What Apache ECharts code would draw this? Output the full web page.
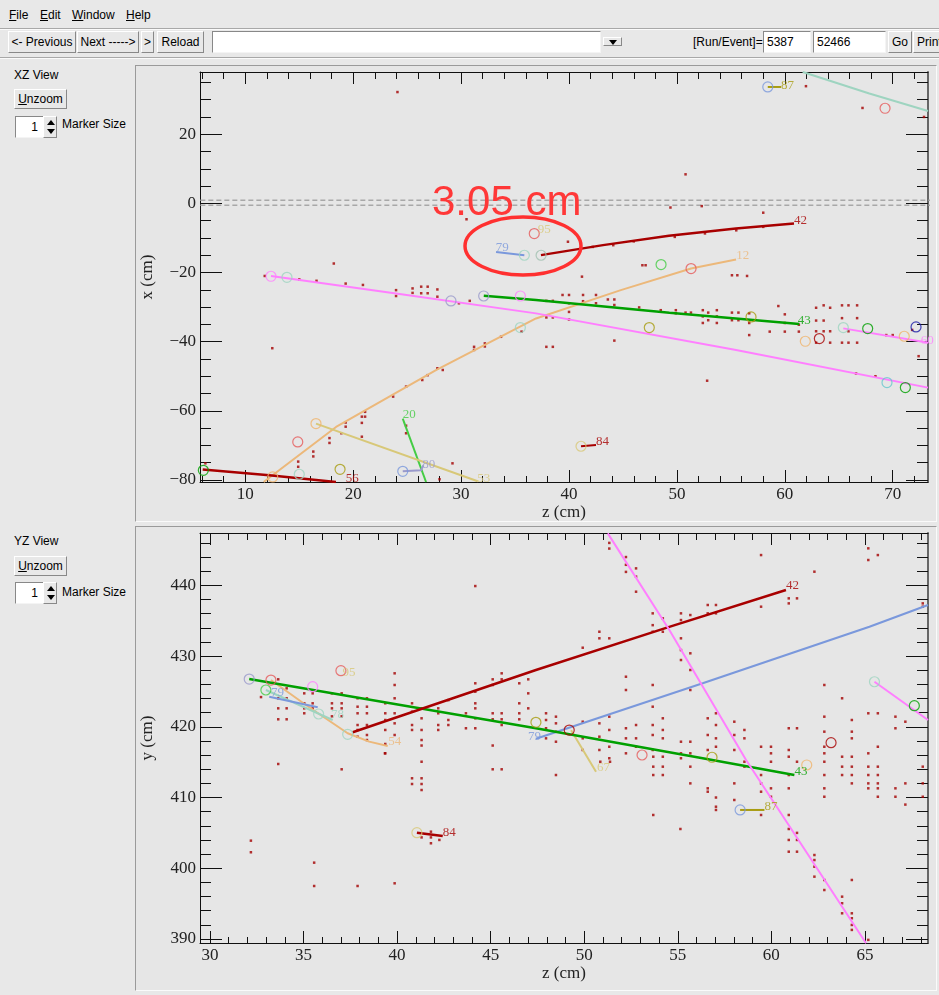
<!DOCTYPE html>
<html><head><meta charset="utf-8">
<script src="https://cdn.jsdelivr.net/npm/echarts@6/dist/echarts.min.js"></script>
<style>
html,body{margin:0;padding:0;}
body{width:939px;height:995px;background:#e8e8e8;position:relative;overflow:hidden;font-family:'Liberation Sans',Arial,sans-serif;font-size:12px;color:#000;}
.a{position:absolute;white-space:nowrap;line-height:14px;}
.btn{position:absolute;box-sizing:border-box;border-top:1px solid #fff;border-left:1px solid #fff;border-right:1px solid #888;border-bottom:1px solid #888;background:#e8e8e8;text-align:center;white-space:nowrap;overflow:hidden;}
.inp{position:absolute;box-sizing:border-box;background:#fff;border-top:1px solid #888;border-left:1px solid #888;border-right:1px solid #f4f4f4;border-bottom:1px solid #f4f4f4;white-space:nowrap;overflow:hidden;}
.u{text-decoration:underline;}
.sep{position:absolute;left:0;width:939px;height:0;border-top:1px solid #a8a8a8;border-bottom:1px solid #fafafa;}
.frame{position:absolute;box-sizing:border-box;border-top:1px solid #9a9a9a;border-left:1px solid #9a9a9a;border-right:1px solid #fafafa;border-bottom:1px solid #fafafa;background:#e6e6e6;}
.up{position:absolute;left:3px;width:0;height:0;border-left:4px solid transparent;border-right:4px solid transparent;border-bottom:5px solid #000;}
.dn{position:absolute;left:3px;width:0;height:0;border-left:4px solid transparent;border-right:4px solid transparent;border-top:5px solid #000;}
#chart{position:absolute;left:0;top:0;width:939px;height:995px;}
</style></head>
<body>
<div class="a" style="left:9px;top:8px"><span class="u">F</span>ile</div>
<div class="a" style="left:40px;top:8px"><span class="u">E</span>dit</div>
<div class="a" style="left:72px;top:8px"><span class="u">W</span>indow</div>
<div class="a" style="left:126px;top:8px"><span class="u">H</span>elp</div>
<div class="sep" style="top:28px"></div>

<div class="btn" style="left:8px;top:31px;width:68px;height:22px;line-height:20px">&lt;- Previous</div>
<div class="btn" style="left:77px;top:31px;width:62px;height:22px;line-height:20px">Next -----&gt;</div>
<div class="btn" style="left:141px;top:31px;width:13px;height:22px;line-height:20px">&gt;</div>
<div class="btn" style="left:157px;top:31px;width:47px;height:22px;line-height:20px">Reload</div>
<div class="inp" style="left:212px;top:31px;width:389px;height:22px"></div>
<div class="btn" style="left:603px;top:37px;width:19px;height:9px"><div class="dn" style="left:5px;top:2px"></div></div>
<div class="a" style="left:693px;top:35px">[Run/Event]=</div>
<div class="inp" style="left:763px;top:31px;width:48px;height:22px;line-height:20px;padding-left:3px">5387</div>
<div class="inp" style="left:813px;top:31px;width:73px;height:22px;line-height:20px;padding-left:3px">52466</div>
<div class="btn" style="left:888px;top:31px;width:24px;height:22px;line-height:20px">Go</div>
<div class="btn" style="left:913px;top:31px;width:32px;height:22px;line-height:20px;text-align:left;padding-left:3px">Print</div>
<div class="sep" style="top:57px"></div>

<div class="a" style="left:14px;top:68px">XZ View</div>
<div class="btn" style="left:14px;top:89px;width:53px;height:20px;line-height:18px"><span class="u">U</span>nzoom</div>
<div class="inp" style="left:15px;top:116px;width:29px;height:22px;line-height:20px;text-align:right;padding-right:5px">1</div>
<div class="btn" style="left:43px;top:116px;width:14px;height:22px"><div class="up" style="top:3px"></div><div class="dn" style="top:12px"></div></div>
<div class="a" style="left:62px;top:117px">Marker Size</div>

<div class="a" style="left:14px;top:534px">YZ View</div>
<div class="btn" style="left:14px;top:556px;width:53px;height:20px;line-height:18px"><span class="u">U</span>nzoom</div>
<div class="inp" style="left:15px;top:582px;width:29px;height:22px;line-height:20px;text-align:right;padding-right:5px">1</div>
<div class="btn" style="left:43px;top:582px;width:14px;height:22px"><div class="up" style="top:3px"></div><div class="dn" style="top:12px"></div></div>
<div class="a" style="left:62px;top:585px">Marker Size</div>

<div class="frame" style="left:135px;top:65px;width:802px;height:457px"></div>
<div class="frame" style="left:135px;top:526px;width:802px;height:465px"></div>

<div id="chart"></div>
<script>
// ---------- axes ----------
const xzZMin = 5.8, xzZMax = 73.27, xzXMin = -80.6, xzXMax = 38.0;
const yzZMin = 29.47, yzZMax = 68.37, yzYMin = 389.43, yzYMax = 447.4;
const xzZMajor = [10, 20, 30, 40, 50, 60, 70];
const xzZMinor = [6, 8, 12, 14, 16, 18, 22, 24, 26, 28, 32, 34, 36, 38, 42, 44, 46, 48, 52, 54, 56, 58, 62, 64, 66, 68, 72];
const xzXMajor = [-80, -60, -40, -20, 0, 20];
const xzXMinor = [-75, -70, -65, -55, -50, -45, -35, -30, -25, -15, -10, -5, 5, 10, 15, 25, 30, 35];
const yzZMajor = [30, 35, 40, 45, 50, 55, 60, 65];
const yzZMinor = [31, 32, 33, 34, 36, 37, 38, 39, 41, 42, 43, 44, 46, 47, 48, 49, 51, 52, 53, 54, 56, 57, 58, 59, 61, 62, 63, 64, 66, 67, 68];
const yzYMajor = [390, 400, 410, 420, 430, 440];
const yzYMinor = [392, 394, 396, 398, 402, 404, 406, 408, 412, 414, 416, 418, 422, 424, 426, 428, 432, 434, 436, 438, 442, 444, 446];

// ---------- XZ view tracks (z, x) ----------
const xzTrack42 = [[37.40, -14.97], [43.15, -12.08], [49.26, -9.39], [55.47, -7.26], [60.85, -5.81]];
const xzTrack43 = [[32.10, -26.73], [36.94, -27.98], [49.30, -31.65], [61.34, -34.91]];
const xzTrackPinkLong = [[12.38, -21.04], [23.97, -26.04], [36.94, -31.82], [55.48, -42.43], [73.27, -53.3]];
const xzTrackPink60 = [[65.42, -36.16], [72.78, -40.03], [73.27, -40.3]];
const xzTrack12 = [[11.7, -80.6], [18.41, -64.68], [27.67, -48.26], [36.94, -33.3], [44.8, -25.1], [51.31, -18.86], [55.48, -16.26]];
const xzTrack56 = [[6.05, -77.0], [12.22, -78.65], [18.40, -80.6]];
const xzTrack20 = [[24.59, -62.25], [26.75, -80.6]];
const xzTrack53 = [[16.55, -63.70], [31.54, -80.39]];
const xzTrack80 = [[24.59, -77.50], [26.28, -77.2], [26.5, -75.8]];
const xzTrack84 = [[41.11, -70.26], [42.5, -69.9]];
const xzTrack87 = [[58.42, 33.67], [59.65, 33.67]];
const xzTrackTeal = [[61.66, 38.0], [67.83, 31.76], [73.27, 26.7]];
const xzTrack79 = [[33.24, -14.06], [35.86, -15.01]];
const xzZeroUpper = [[-0.1, 0.9], [74.0, 0.9]];
const xzZeroLower = [[-0.1, -0.55], [74.0, -0.55]];

// ---------- YZ view tracks (z, y) ----------
const yzTrack42 = [[37.63, 419.22], [47.42, 428.03], [54.46, 434.06], [60.78, 439.34]];
const yzTrack43 = [[32.10, 426.75], [47.42, 419.79], [56.33, 415.54], [61.23, 413.18]];
const yzTrackPinkLong = [[51.26, 447.35], [54.55, 433.68], [58.65, 415.31], [65.06, 389.39]];
const yzTrackPinkShort = [[65.51, 426.37], [68.37, 420.96]];
const yzTrackBlueLong = [[47.42, 418.3], [56.33, 426.15], [65.24, 434.15], [68.37, 437.22]];
const yzTrack79 = [[33.17, 424.25], [35.76, 422.75]];
const yzTrack78 = [[32.99, 425.20], [34.77, 423.08], [36.56, 420.96]];
const yzTrack54 = [[33.26, 426.61], [35.13, 423.08], [37.36, 419.08], [38.51, 417.9], [39.50, 417.28]];
const yzTrack67 = [[49.3, 419.5], [50.63, 413.65]];
const yzTrack87 = [[58.33, 408.24], [59.63, 408.24]];
const yzTrack84 = [[41.06, 405.03], [42.44, 404.56]];

// ---------- hits ----------
const xzHits = [
  [24.1, 32.2], [61.96, 33.9], [67.2, 27.6], [72.9, 25.0], [50.8, 8.4], [49.4, -1.2], [52.3, -0.8], [58.0, -2.7],
  [39.9, -11.1], [30.5, -4.6], [18.2, -17.4], [12.5, -41.9], [46.8, -17.9], [47.1, -17.9], [55.1, -20.8], [55.6, -20.8],
  [56.5, -21.0], [41.2, -21.2], [37.9, -41.5], [38.5, -41.5], [44.2, -39.7], [52.8, -51.3], [72.4, -44.2], [29.2, -75.2],
  [28.0, -79.8], [24.9, -64.3], [24.9, -66.5], [20.8, -67.5], [6.3, -75.2],
  [11.8, -21.0], [15.0, -22.0], [16.6, -22.4], [19.3, -23.2], [20.9, -23.6], [23.97, -25.1], [23.97, -26.8], [25.5, -24.6],
  [25.5, -25.9], [26.3, -24.1], [26.3, -26.0], [26.9, -24.1], [26.9, -26.0], [27.8, -24.9], [27.8, -27.0], [29.8, -28.9], [30.8, -28.2],
  [14.9, -74.7], [14.9, -76.2], [16.3, -71.8], [16.3, -73.2], [17.8, -67.9], [17.8, -69.3], [18.9, -66.5], [19.3, -64.6],
  [19.3, -63.4], [20.8, -61.7], [20.8, -63.5], [21.1, -60.3], [21.1, -61.7], [23.7, -55.9], [24.9, -53.0], [26.4, -51.1],
  [26.9, -49.7], [27.8, -47.7], [28.3, -48.2], [31.2, -41.5], [31.2, -42.4], [32.2, -40.5], [32.2, -41.4], [35.6, -37.1], [33.7, -38.6],
  [37.9, -28.2], [38.5, -28.2], [37.9, -33.0], [38.5, -33.0],
  [39.4, -26.5], [40.0, -26.5], [40.0, -28.9], [40.0, -31.4], [40.0, -33.6], [41.3, -26.5], [41.3, -28.3], [42.5, -26.5],
  [42.5, -28.9], [43.6, -27.8], [44.2, -27.8], [44.2, -29.4], [46.5, -30.1], [48.5, -30.9], [49.9, -30.9], [49.9, -31.8],
  [50.8, -31.6], [51.3, -31.6], [52.4, -30.9], [52.4, -32.7], [52.4, -34.6], [52.9, -31.6], [52.9, -33.8], [53.7, -30.9],
  [53.7, -32.7], [53.7, -34.6], [55.1, -31.6], [55.1, -33.8], [55.7, -31.6], [55.7, -33.8], [56.7, -31.8], [56.7, -34.6],
  [56.7, -38.1], [57.1, -33.8], [58.6, -37.1], [59.4, -29.7], [60.0, -32.1], [60.0, -34.6], [60.0, -37.1], [61.3, -35.1],
  [61.3, -37.1], [62.9, -30.2], [62.9, -33.9], [62.9, -37.0], [62.9, -40.3], [63.6, -29.5], [63.6, -33.9], [63.6, -37.0],
  [64.2, -30.2], [64.2, -37.0], [64.2, -40.3], [65.3, -29.5], [65.3, -33.2], [65.3, -40.3], [65.9, -29.5], [65.9, -37.0],
  [65.9, -40.3], [66.7, -29.5], [66.7, -33.2], [66.7, -40.3], [69.4, -38.1], [70.0, -38.1], [71.8, -36.6], [68.4, -50.0], [66.6, -49.2],
  [42.2, -12.6], [44.1, -12.1], [46.0, -11.0], [49.8, -9.7], [52.6, -8.7], [55.5, -7.8], [58.0, -6.8]
];
const yzHits = [
  [32.73, 424.2], [33.65, 426.71], [33.65, 424.03], [33.65, 422.61], [33.65, 421.06], [33.65, 414.74],
  [34.10, 425.44], [34.10, 424.03], [34.10, 422.61], [34.10, 421.06],
  [35.04, 424.73], [35.04, 423.32], [35.04, 422.61], [35.04, 421.91], [35.49, 424.73], [35.49, 423.32], [35.49, 422.61],
  [36.52, 424.73], [36.52, 423.32], [36.52, 422.61], [36.52, 421.48],
  [37.04, 424.73], [37.04, 423.32], [37.04, 422.61], [37.04, 421.48], [37.04, 413.99],
  [37.89, 424.03], [37.89, 422.84], [37.89, 421.91], [37.89, 420.25], [37.89, 419.55], [37.89, 418.60], [37.89, 397.49],
  [38.39, 424.03], [38.39, 422.84], [38.39, 421.91], [38.39, 420.25], [38.39, 418.84], [38.39, 418.13],
  [39.37, 423.32], [39.37, 421.91], [39.37, 420.96], [39.37, 419.55], [39.37, 417.57], [39.37, 416.25], [39.35, 416.25],
  [39.87, 427.56], [39.87, 425.91], [39.87, 424.03], [39.87, 421.91], [39.87, 420.49], [39.87, 418.84], [39.87, 397.87],
  [40.80, 423.32], [40.80, 422.14], [40.80, 420.25], [40.80, 419.55], [40.80, 412.72], [40.80, 411.91],
  [41.31, 422.61], [41.31, 421.20], [41.31, 419.55], [41.31, 418.13], [41.31, 417.35], [41.31, 415.06], [41.31, 412.72],
  [41.31, 411.91], [41.31, 411.06], [41.31, 404.36], [41.81, 405.17], [41.81, 404.36], [41.81, 403.53], [42.26, 404.0],
  [42.20, 422.61], [42.20, 421.91], [42.20, 420.25], [42.20, 419.55], [42.74, 423.77], [42.74, 420.96], [42.74, 420.25],
  [43.68, 421.91], [43.68, 419.79],
  [44.18, 439.9], [44.18, 426.15], [44.18, 424.96], [44.18, 423.32], [44.18, 422.61], [44.18, 421.20], [44.18, 419.79],
  [45.11, 426.71], [45.11, 425.91], [45.11, 421.91], [45.11, 421.06], [45.11, 417.35], [45.11, 413.99],
  [45.59, 427.56], [45.59, 426.71], [45.59, 421.91], [45.59, 421.06], [45.59, 420.25], [45.59, 413.99],
  [46.53, 426.15], [46.53, 423.32], [46.53, 421.91], [46.53, 421.06], [47.01, 426.71], [47.01, 424.73], [47.01, 422.61],
  [32.19, 403.9], [32.19, 402.26], [35.57, 400.79], [35.57, 397.49],
  [47.96, 421.91], [47.96, 420.96], [47.96, 419.79], [47.96, 418.37], [48.49, 421.43], [48.49, 420.49], [48.49, 419.31],
  [48.49, 417.89], [48.49, 413.18], [49.92, 431.18], [49.92, 420.72], [49.92, 418.37], [49.92, 416.72],
  [50.81, 433.44], [50.81, 432.51], [50.81, 420.49], [50.81, 418.60], [50.81, 416.72], [50.86, 415.06],
  [51.34, 446.0], [51.34, 445.2], [51.34, 432.51], [51.34, 421.43], [51.34, 419.55], [51.34, 417.18], [51.34, 415.55], [51.38, 415.06],
  [52.23, 444.0], [52.23, 442.9], [52.23, 441.9], [52.23, 427.08], [52.23, 425.20], [52.23, 419.79], [52.23, 418.37], [52.23, 416.25],
  [52.77, 442.40], [52.77, 441.23], [52.77, 439.10], [52.77, 420.25], [52.77, 418.37], [52.77, 417.18],
  [53.66, 436.04], [53.66, 434.37], [53.66, 433.44], [53.66, 425.91], [53.66, 422.84], [53.66, 420.25], [53.66, 418.84],
  [53.66, 416.72], [53.69, 415.77], [53.69, 414.36], [53.69, 413.18], [53.69, 407.53],
  [54.20, 435.33], [54.20, 433.44], [54.20, 421.20], [54.20, 419.55], [54.20, 418.37], [54.20, 415.77], [54.20, 414.36], [54.20, 413.18],
  [55.17, 436.04], [55.17, 435.09], [55.17, 432.51], [55.17, 430.85], [55.17, 429.44], [55.17, 417.89], [55.17, 416.25],
  [55.17, 415.55], [55.14, 405.55],
  [55.67, 435.80], [55.67, 430.39], [55.67, 428.03], [55.67, 425.20], [55.67, 417.89], [55.67, 416.25], [55.67, 414.36], [55.67, 412.0],
  [56.60, 437.22], [56.60, 436.04], [56.60, 421.20], [56.60, 418.84], [56.60, 416.72], [56.60, 411.30], [56.60, 410.82],
  [57.04, 437.22], [57.04, 436.04], [57.04, 421.91], [57.04, 420.25], [57.04, 418.37], [57.04, 417.18], [57.04, 410.0],
  [57.04, 408.70], [57.04, 408.24],
  [58.02, 420.72], [58.02, 418.84], [58.02, 416.72], [58.02, 412.0], [58.02, 409.65], [58.56, 419.55], [58.56, 418.37],
  [58.56, 415.06], [58.56, 414.36],
  [59.45, 444.28], [59.45, 436.98], [59.45, 417.18], [59.45, 413.18], [59.45, 412.0], [59.45, 410.82], [59.45, 407.53],
  [59.98, 417.18], [59.98, 416.25], [59.98, 415.06], [59.98, 411.30], [59.98, 410.11],
  [60.93, 438.16], [60.93, 437.45], [60.93, 419.79], [60.93, 416.72], [60.93, 415.77], [60.93, 413.18], [60.93, 411.30],
  [60.93, 407.53], [60.93, 405.55], [60.93, 404.0], [60.93, 402.34],
  [61.37, 438.16], [61.37, 419.79], [61.37, 415.06], [61.37, 405.0], [61.37, 404.0], [61.37, 402.34],
  [62.30, 441.93], [62.30, 401.87], [62.30, 401.16], [62.30, 400.22], [62.30, 398.81],
  [62.83, 425.91], [62.83, 421.43], [62.83, 419.31], [62.83, 417.18], [62.83, 416.25], [62.83, 415.06], [62.83, 413.18],
  [62.83, 411.30], [62.83, 410.11], [62.83, 398.34], [62.83, 396.92],
  [63.78, 424.03], [63.78, 415.77], [63.78, 414.36], [63.78, 413.18], [63.78, 395.98], [63.78, 395.05], [63.78, 393.63],
  [64.30, 420.96], [64.30, 419.31], [64.30, 418.37], [64.30, 415.77], [64.30, 414.36], [64.30, 413.18], [64.30, 412.0],
  [64.30, 398.34], [64.30, 393.63], [64.30, 392.93], [64.30, 391.98], [64.30, 391.28],
  [65.18, 445.23], [65.18, 443.58], [65.18, 421.91], [65.18, 416.25], [65.18, 414.36], [65.18, 413.18], [65.18, 412.0],
  [65.18, 411.30], [65.18, 389.87],
  [65.69, 444.28], [65.69, 421.91], [65.69, 417.18], [65.69, 414.36], [65.69, 413.18], [65.69, 412.0], [65.69, 411.30], [65.69, 410.11],
  [66.63, 421.43], [66.63, 419.79], [66.63, 411.30], [66.63, 410.11], [67.16, 420.72], [67.16, 412.0], [67.16, 409.0],
  [68.09, 437.45], [68.09, 436.98], [68.09, 414.36], [68.09, 412.0], [68.09, 410.11]
];

// ---------- vertices (z, value, colour group) ----------
const xzVertices = [
  [12.38, -21.09, 'pink'], [13.86, -21.38, 'teal'], [58.42, 33.67, 'blue'], [69.29, 27.51, 'red'], [36.78, -8.74, 'red'],
  [35.86, -15.01, 'teal'], [37.41, -15.01, 'greyteal'], [48.53, -17.70, 'brightgreen'], [51.31, -18.86, 'red'],
  [32.09, -26.79, 'lavender'], [35.49, -26.79, 'pink'], [29.06, -28.23, 'lavender'], [35.49, -35.93, 'teal'],
  [47.44, -35.93, 'olive'], [56.87, -32.86, 'olive'], [61.90, -39.89, 'orange'], [63.20, -39.11, 'darkred'],
  [65.42, -35.93, 'teal'], [67.68, -36.22, 'green'], [71.07, -38.44, 'orange'], [72.16, -35.75, 'darkblue'],
  [69.47, -51.84, 'cyan'], [71.17, -53.28, 'green'], [16.55, -63.70, 'orange'], [14.86, -69.02, 'red'],
  [18.78, -76.92, 'olive'], [15.00, -78.36, 'teal'], [12.54, -79.14, 'orange'], [6.11, -77.21, 'green'],
  [24.59, -77.50, 'blue'], [41.11, -70.26, 'khaki']
];
const yzVertices = [
  [32.10, 426.75, 'lavender'], [33.26, 426.61, 'red'], [32.99, 425.20, 'brightgreen'], [35.49, 425.67, 'pink'],
  [37.00, 427.93, 'red'], [35.81, 421.81, 'teal'], [37.36, 418.94, 'teal'], [47.42, 420.63, 'olive'],
  [49.20, 419.54, 'darkred'], [53.09, 416.01, 'red'], [56.83, 415.69, 'olive'], [61.89, 414.60, 'orange'],
  [63.19, 417.75, 'darkred'], [58.33, 408.24, 'blue'], [65.51, 426.37, 'teal'], [67.64, 422.98, 'green'],
  [41.06, 405.03, 'khaki']
];

// ---------- track labels ----------
const xzLabels = [
  [60.85, -4.9, '42', 'darkred'], [37.1, -7.5, '95', 'khaki'], [33.2, -12.7, '79', 'blue'], [55.5, -15.2, '12', 'tan'],
  [61.2, -33.8, '43', 'green'], [72.6, -39.6, '60', 'pink'], [24.6, -61.2, '20', 'brightgreen'], [42.5, -68.8, '84', 'darkred'],
  [26.4, -75.5, '80', 'lavender'], [31.5, -79.5, '53', 'khaki'], [19.3, -79.6, '56', 'darkred'], [59.65, 34.2, '87', 'olive']
];
const yzLabels = [
  [60.78, 439.9, '42', 'darkred'], [61.23, 413.65, '43', 'green'], [50.68, 414.3, '67', 'khaki'], [59.63, 408.7, '87', 'olive'],
  [42.44, 405.03, '84', 'darkred'], [37.09, 427.64, '95', 'khaki'], [33.26, 424.82, '79', 'blue'], [36.47, 421.66, '78', 'teal'],
  [39.53, 417.89, '54', 'tan'], [47.0, 418.6, '79', 'blue']
];

const annotationText = '3.05 cm';

// ---------- styling ----------
const palette = {
  darkred: '#a80000', green: '#00a000', brightgreen: '#44cc44', pink: '#ff7fff', tan: '#ecb87a', khaki: '#d8c878',
  lavender: '#9a9acc', olive: '#a89c10', teal: '#9ed4c0', blue: '#7a98dc', red: '#e65a5a', cyan: '#68c8cc',
  darkblue: '#1a1aa8', orange: '#f0b46c', greyteal: '#a0c0b0'
};
const xzTrackStyles = [
  [xzTrack12, 'tan', 2], [xzTrackPinkLong, 'pink', 2], [xzTrackPink60, 'pink', 2], [xzTrack56, 'darkred', 2.5],
  [xzTrack20, 'brightgreen', 2], [xzTrack53, 'khaki', 2], [xzTrack80, 'lavender', 2], [xzTrack84, 'darkred', 2],
  [xzTrack87, 'olive', 2], [xzTrackTeal, 'teal', 2], [xzTrack79, 'blue', 2], [xzTrack43, 'green', 2.5], [xzTrack42, 'darkred', 2.5]
];
const yzTrackStyles = [
  [yzTrack54, 'tan', 2], [yzTrack78, 'teal', 2], [yzTrack79, 'blue', 2], [yzTrackBlueLong, 'blue', 2.2],
  [yzTrack67, 'khaki', 2], [yzTrack87, 'olive', 2], [yzTrack84, 'darkred', 2.5], [yzTrackPinkShort, 'pink', 2],
  [yzTrack43, 'green', 2.5], [yzTrack42, 'darkred', 2.5], [yzTrackPinkLong, 'pink', 2]
];

const serif = 'Liberation Serif, Times New Roman, serif';
const minusFmt = v => String(v).replace('-', '\u2212');

function xAxes(g, min, max, majors, minors, name, nameGap) {
  const base = { type: 'value', gridIndex: g, min: min, max: max, splitLine: { show: false }, silent: true };
  const line = { show: true, onZero: false, lineStyle: { color: '#111', width: 1 } };
  const noline = { show: false, onZero: false };
  return [
    Object.assign({}, base, { position: 'bottom', axisLine: line,
      axisTick: { show: true, inside: true, length: 12, customValues: majors, lineStyle: { color: '#111' } },
      axisLabel: { show: true, customValues: majors, fontFamily: serif, fontSize: 17, color: '#222', margin: 4, formatter: minusFmt },
      name: name, nameLocation: 'middle', nameGap: nameGap, nameTextStyle: { fontFamily: serif, fontSize: 17, color: '#222' } }),
    Object.assign({}, base, { position: 'bottom', axisLine: noline,
      axisTick: { show: true, inside: true, length: 6, customValues: minors, lineStyle: { color: '#111' } }, axisLabel: { show: false } }),
    Object.assign({}, base, { position: 'top', axisLine: line,
      axisTick: { show: true, inside: true, length: 12, customValues: majors, lineStyle: { color: '#111' } }, axisLabel: { show: false } }),
    Object.assign({}, base, { position: 'top', axisLine: noline,
      axisTick: { show: true, inside: true, length: 7, customValues: minors, lineStyle: { color: '#111' } }, axisLabel: { show: false } })
  ];
}
function yAxes(g, min, max, majors, minors, name, nameGap) {
  const base = { type: 'value', gridIndex: g, min: min, max: max, splitLine: { show: false }, silent: true };
  const line = { show: true, onZero: false, lineStyle: { color: '#111', width: 1 } };
  const rline = { show: true, onZero: false, lineStyle: { color: '#666', width: 2 } };
  const noline = { show: false, onZero: false };
  return [
    Object.assign({}, base, { position: 'left', axisLine: line,
      axisTick: { show: true, inside: true, length: 22, customValues: majors, lineStyle: { color: '#111' } },
      axisLabel: { show: true, customValues: majors, fontFamily: serif, fontSize: 17, color: '#222', margin: 4, formatter: minusFmt },
      name: name, nameLocation: 'middle', nameGap: nameGap, nameTextStyle: { fontFamily: serif, fontSize: 17, color: '#222' } }),
    Object.assign({}, base, { position: 'left', axisLine: noline,
      axisTick: { show: true, inside: true, length: 11, customValues: minors, lineStyle: { color: '#111' } }, axisLabel: { show: false } }),
    Object.assign({}, base, { position: 'right', axisLine: rline,
      axisTick: { show: true, inside: true, length: 22, customValues: majors, lineStyle: { color: '#111' } }, axisLabel: { show: false } }),
    Object.assign({}, base, { position: 'right', axisLine: noline,
      axisTick: { show: true, inside: true, length: 11, customValues: minors, lineStyle: { color: '#111' } }, axisLabel: { show: false } })
  ];
}

function buildSeries(g, trackStyles, hits, vertices, labels, extraLines) {
  const xi = g * 4, yi = g * 4;
  const out = [];
  (extraLines || []).forEach(d => out.push({
    type: 'line', xAxisIndex: xi, yAxisIndex: yi, data: d, symbol: 'none', clip: false, silent: true, z: 1,
    lineStyle: { color: '#a8a8a8', width: 1.5, type: [5, 3] }
  }));
  out.push({
    type: 'scatter', xAxisIndex: xi, yAxisIndex: yi, data: hits, symbol: 'rect', symbolSize: [2.5, 2.5], silent: true, z: 2,
    itemStyle: { color: '#a40000' }
  });
  trackStyles.forEach(t => out.push({
    type: 'line', xAxisIndex: xi, yAxisIndex: yi, data: t[0], symbol: 'none', showSymbol: false, silent: true, z: 3,
    lineStyle: { color: palette[t[1]], width: t[2] }
  }));
  out.push({
    type: 'scatter', xAxisIndex: xi, yAxisIndex: yi, symbol: 'circle', symbolSize: 10, silent: true, z: 4,
    data: vertices.map(v => ({ value: [v[0], v[1]], itemStyle: { color: 'rgba(0,0,0,0)', borderColor: palette[v[2]], borderWidth: 1.2 } }))
  });
  out.push({
    type: 'scatter', xAxisIndex: xi, yAxisIndex: yi, symbolSize: 0, silent: true, z: 5,
    data: labels.map(l => ({ value: [l[0], l[1]], label: { show: true, position: 'right', distance: 0, formatter: l[2],
      color: palette[l[3]], fontFamily: serif, fontSize: 13 } }))
  });
  return out;
}

const chart = echarts.init(document.getElementById('chart'), null, { renderer: 'canvas' });
chart.setOption({
  animation: false,
  backgroundColor: 'transparent',
  grid: [
    { left: 200, top: 72, width: 728, height: 410, show: true, backgroundColor: '#e6e6e6', borderWidth: 0 },
    { left: 200, top: 533, width: 728, height: 410, show: true, backgroundColor: '#e6e6e6', borderWidth: 0 }
  ],
  xAxis: xAxes(0, xzZMin, xzZMax, xzZMajor, xzZMinor, 'z (cm)', 21).concat(xAxes(1, yzZMin, yzZMax, yzZMajor, yzZMinor, 'z (cm)', 22)),
  yAxis: yAxes(0, xzXMin, xzXMax, xzXMajor, xzXMinor, 'x (cm)', 44).concat(yAxes(1, yzYMin, yzYMax, yzYMajor, yzYMinor, 'y (cm)', 44)),
  series: buildSeries(0, xzTrackStyles, xzHits, xzVertices, xzLabels, [xzZeroUpper, xzZeroLower])
    .concat(buildSeries(1, yzTrackStyles, yzHits, yzVertices, yzLabels, [])),
  graphic: [
    { type: 'text', left: 432, top: 182, z: 100, style: { text: annotationText, fill: '#ff3838', font: '42px "Liberation Sans", Arial, sans-serif' } },
    { type: 'ellipse', z: 100, shape: { cx: 523, cy: 246, rx: 58, ry: 29 }, style: { fill: 'none', stroke: '#ff3030', lineWidth: 3.5 } }
  ]
});
</script>
</body></html>
